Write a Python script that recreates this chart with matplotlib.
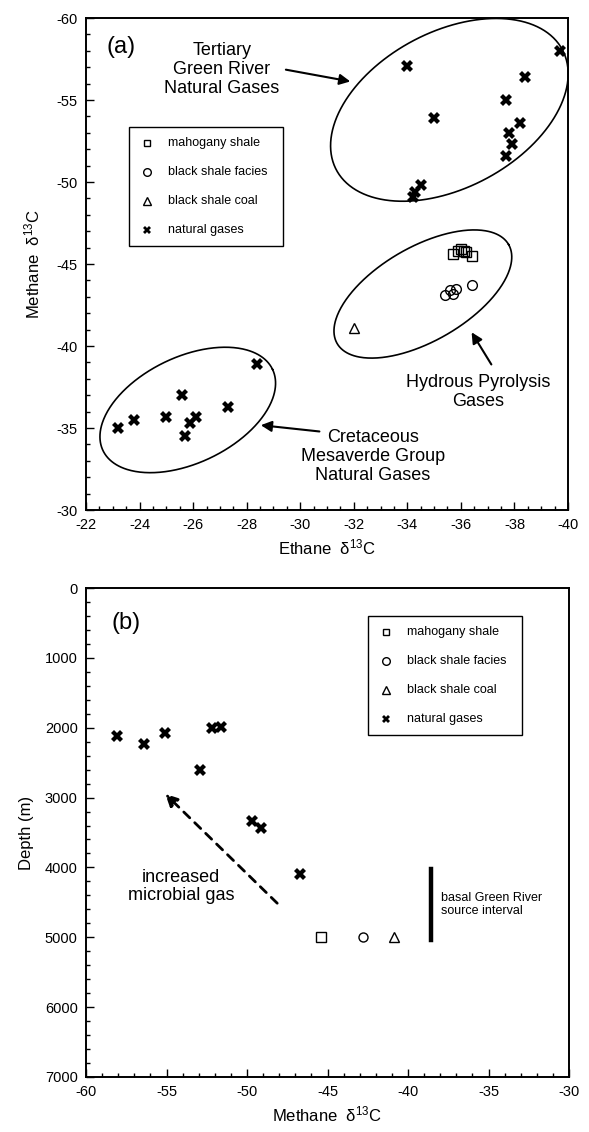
import numpy as np
import matplotlib
matplotlib.use("Agg")
from matplotlib import pyplot as plt
from matplotlib.patches import Rectangle

plt.rcParams['font.family'] = ['Liberation Sans', 'DejaVu Sans']
plt.rcParams['axes.unicode_minus'] = False

# ---- (a) ethane vs methane d13C ----
gas_ethane = [-34.0, -39.7, -38.4, -37.7, -35.0, -38.2, -37.8, -37.9, -37.7, -34.5, -34.3, -34.2,
              -23.2, -23.8, -25.0, -25.6, -25.7, -25.9, -26.1, -27.3, -28.4]
gas_methane = [-57.1, -58.0, -56.4, -55.0, -53.9, -53.6, -53.0, -52.3, -51.6, -49.8, -49.4, -49.1,
               -35.0, -35.5, -35.7, -37.0, -34.5, -35.3, -35.7, -36.3, -38.9]
mahog_ethane = [-35.7, -35.9, -36.0, -36.1, -36.2, -36.4]
mahog_methane = [-45.6, -45.8, -45.9, -45.8, -45.75, -45.5]
facies_ethane = [-35.4, -35.6, -35.7, -35.8, -36.4]
facies_methane = [-43.1, -43.4, -43.2, -43.5, -43.7]
coal_ethane = [-32.0]
coal_methane = [-41.1]

# ---- (b) methane d13C vs depth ----
b_gas_methane = [-58.1, -56.4, -55.1, -52.9, -52.2, -51.6, -49.7, -49.1, -46.7]
b_gas_depth = [2120, 2240, 2070, 2600, 2010, 1990, 3330, 3430, 4090]
b_mahog = (-45.4, 5000)
b_facies = (-42.8, 5000)
b_coal = (-40.9, 5000)
source_interval = (-38.6, 4020, 5040)

legend_labels = ['mahogany shale', 'black shale facies', 'black shale coal', 'natural gases']

fig = plt.figure(figsize=(5.89, 11.32), dpi=100)
axa = fig.add_axes([86/589, 1-510/1132, 482/589, 492/1132])
axb = fig.add_axes([86/589, 1-1077/1132, 483/589, 489/1132])

open_kw = dict(linestyle='none', mfc='none', mec='k', mew=1.0)
gas_kw = dict(linestyle='none', marker='X', color='k', mew=0)


def style_axes(ax):
    for s in ax.spines.values():
        s.set_linewidth(1.4)
    ax.tick_params(which='both', direction='in', top=False, right=False,
                   labelsize=10.5, width=1)
    ax.tick_params(which='major', length=6, pad=6)
    ax.tick_params(which='minor', length=3)


def draw_ellipse(ax, cx, cy, a, b, ang):
    # ellipse drawn in screen pixels around a data-space centre
    t = np.linspace(0, 2*np.pi, 400)
    th = np.deg2rad(ang)
    x0, y0 = ax.transData.transform((cx, cy))
    px = x0 + a*np.cos(t)*np.cos(th) - b*np.sin(t)*np.sin(th)
    py = y0 + a*np.cos(t)*np.sin(th) + b*np.sin(t)*np.cos(th)
    pts = ax.transData.inverted().transform(np.column_stack([px, py]))
    ax.plot(pts[:, 0], pts[:, 1], color='k', lw=1.2, clip_on=False)


def legend_box(ax, x0, y0):
    W, H = ax.bbox.width, ax.bbox.height
    ax.add_patch(Rectangle((x0, y0 - 119/H), 154/W, 119/H, transform=ax.transAxes,
                           fill=False, ec='k', lw=1.0))
    rows = [16, 45, 74, 103]
    specs = [dict(marker='s', ms=5, **open_kw), dict(marker='o', ms=5.5, **open_kw),
             dict(marker='^', ms=5.5, **open_kw), dict(ms=6, **gas_kw)]
    for r, spec, lab in zip(rows, specs, legend_labels):
        yy = y0 - r/H
        ax.plot([x0 + 18/W], [yy], transform=ax.transAxes, **spec)
        ax.text(x0 + 39/W, yy, lab, transform=ax.transAxes, fontsize=9,
                va='center', ha='left')


# panel (a)
axa.set_xlim(-22, -40)
axa.set_ylim(-30, -60)
axa.set_xticks(np.arange(-22, -41, -2))
axa.set_xticks(np.arange(-22, -40.1, -0.5), minor=True)
axa.set_yticks(np.arange(-60, -29, 5))
axa.set_yticks(np.arange(-60, -29, 1), minor=True)
style_axes(axa)
axa.plot(gas_ethane, gas_methane, ms=8, **gas_kw)
axa.plot(mahog_ethane, mahog_methane, marker='s', ms=7, **open_kw)
axa.plot(facies_ethane, facies_methane, marker='o', ms=7, **open_kw)
axa.plot(coal_ethane, coal_methane, marker='^', ms=7, **open_kw)
axa.set_xlabel(r'Ethane  $\mathregular{\delta^{13}}$C', fontsize=12, labelpad=4)
axa.set_ylabel(r'Methane  $\mathregular{\delta^{13}}$C', fontsize=12, labelpad=10)

draw_ellipse(axa, -35.57, -54.4, 128, 78, 28)
draw_ellipse(axa, -34.58, -43.17, 99, 47, 30)
draw_ellipse(axa, -25.8, -36.1, 94, 53, 25.6)

axa.text(0.073, 0.941, '(a)', transform=axa.transAxes, fontsize=17, ha='center', va='center')
axa.text(0.282, 0.896, 'Tertiary\nGreen River\nNatural Gases', transform=axa.transAxes,
         fontsize=13, ha='center', va='center', linespacing=1.15)
axa.text(0.813, 0.240, 'Hydrous Pyrolysis\nGases', transform=axa.transAxes,
         fontsize=13, ha='center', va='center', linespacing=1.15)
axa.text(0.595, 0.108, 'Cretaceous\nMesaverde Group\nNatural Gases', transform=axa.transAxes,
         fontsize=13, ha='center', va='center', linespacing=1.15)
arrow_kw = dict(arrowstyle='-|>', color='k', lw=1.5, mutation_scale=16)
axa.annotate('', xy=(0.554, 0.870), xytext=(0.409, 0.896), xycoords='axes fraction',
             arrowprops=arrow_kw)
axa.annotate('', xy=(0.797, 0.366), xytext=(0.844, 0.291), xycoords='axes fraction',
             arrowprops=arrow_kw)
axa.annotate('', xy=(0.357, 0.173), xytext=(0.490, 0.159), xycoords='axes fraction',
             arrowprops=arrow_kw)
legend_box(axa, 0.089, 0.778)

# panel (b)
axb.set_xlim(-60, -30)
axb.set_ylim(7000, 0)
axb.set_xticks(np.arange(-60, -29, 5))
axb.set_xticks(np.arange(-60, -29, 1), minor=True)
axb.set_yticks(np.arange(0, 7001, 1000))
axb.set_yticks(np.arange(0, 7001, 200), minor=True)
style_axes(axb)
axb.plot(b_gas_methane, b_gas_depth, ms=8, **gas_kw)
axb.plot([b_mahog[0]], [b_mahog[1]], marker='s', ms=7, **open_kw)
axb.plot([b_facies[0]], [b_facies[1]], marker='o', ms=6.5, **open_kw)
axb.plot([b_coal[0]], [b_coal[1]], marker='^', ms=7, **open_kw)
axb.plot([source_interval[0]] * 2, source_interval[1:], color='k', lw=3.2)
axb.set_xlabel(r'Methane  $\mathregular{\delta^{13}}$C', fontsize=12, labelpad=4)
axb.set_ylabel('Depth (m)', fontsize=12, labelpad=8)

axb.text(0.083, 0.928, '(b)', transform=axb.transAxes, fontsize=17, ha='center', va='center')
axb.text(0.197, 0.389, 'increased\nmicrobial gas', transform=axb.transAxes,
         fontsize=13, ha='center', va='center', linespacing=1.1)
axb.annotate('', xy=(-55.2, 2920), xytext=(-48.0, 4540),
             arrowprops=dict(arrowstyle='-|>', color='k', lw=2, ls=(0, (3, 2.5)),
                             mutation_scale=18))
axb.text(0.735, 0.353, 'basal Green River\nsource interval', transform=axb.transAxes,
         fontsize=9, ha='left', va='center', linespacing=1.1)
legend_box(axb, 0.584, 0.943)

fig.savefig('out.png', dpi=100)
